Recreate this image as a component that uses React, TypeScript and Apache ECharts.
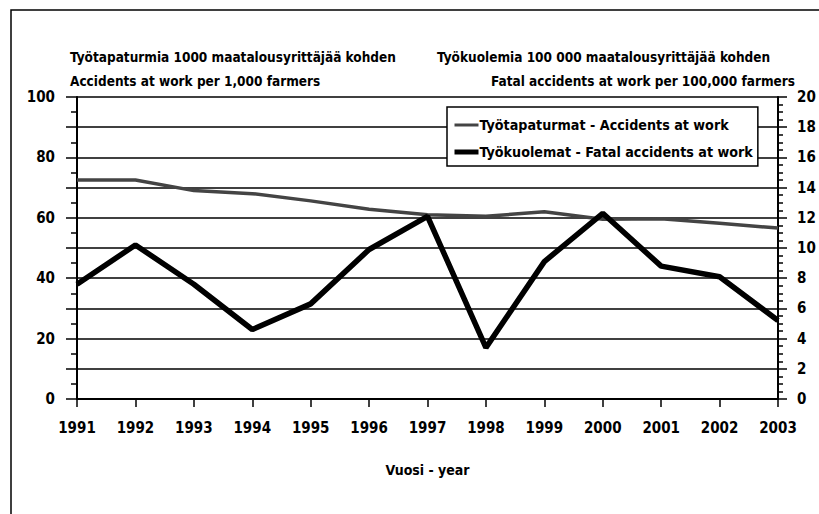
import React, { useEffect, useRef } from "react";
import * as echarts from "echarts";

const years = ["1991", "1992", "1993", "1994", "1995", "1996", "1997", "1998", "1999", "2000", "2001", "2002", "2003"];
const accidents = [72.5, 72.5, 69, 68, 65.6, 62.8, 61, 60.5, 62, 59.5, 59.7, 58.2, 56.6];
const fatal = [7.6, 10.2, 7.6, 4.6, 6.3, 9.9, 12.1, 3.4, 9.1, 12.3, 8.8, 8.1, 5.2];
const accidentsName = "Työtapaturmat - Accidents at work";
const fatalName = "Työkuolemat - Fatal accidents at work";
const leftTitle1 = "Työtapaturmia 1000 maatalousyrittäjää kohden";
const leftTitle2 = "Accidents at work per 1,000 farmers";
const rightTitle1 = "Työkuolemia 100 000 maatalousyrittäjää kohden";
const rightTitle2 = "Fatal accidents at work per 100,000 farmers";
const xName = "Vuosi - year";

const FONT = '"DejaVu Sans Condensed", "DejaVu Sans", sans-serif';

export default function App() {
  const ref = useRef<HTMLDivElement>(null);
  useEffect(() => {
    document.body.style.margin = "0";
    const chart = echarts.init(ref.current!, null, { renderer: "svg" });
    const titleStyle = { fontFamily: FONT, fontSize: 13.5, fontWeight: "bold" as const, color: "#000" };
    const tickFont = { fontFamily: FONT, fontSize: 15, fontWeight: "bold" as const, color: "#000" };
    chart.setOption({
      animation: false,
      backgroundColor: "#fff",
      textStyle: { fontFamily: FONT },
      title: [
        { text: leftTitle1, left: 70, top: 50, padding: 0, textStyle: titleStyle },
        { text: leftTitle2, left: 70, top: 74, padding: 0, textStyle: titleStyle },
        { text: rightTitle1, left: 437, top: 50, padding: 0, textStyle: titleStyle },
        { text: rightTitle2, right: 24, top: 74, padding: 0, textStyle: titleStyle },
      ],
      graphic: [
        {
          type: "rect",
          shape: { x: 11, y: 10, width: 1000, height: 800 },
          style: { fill: "none", stroke: "#000", lineWidth: 1.5 },
          silent: true,
        },
      ],
      legend: {
        orient: "vertical",
        left: 447,
        top: 107,
        padding: [11, 5, 7, 5],
        itemGap: 13,
        itemWidth: 24,
        itemHeight: 14,
        backgroundColor: "#fff",
        borderColor: "#000",
        borderWidth: 1.5,
        borderRadius: 0,
        itemStyle: { opacity: 0 },
        textStyle: { fontFamily: FONT, fontSize: 14.2, fontWeight: "bold", color: "#000", padding: [0, 0, 0, -4] },
        data: [
          { name: accidentsName, lineStyle: { color: "#444", width: 3 } },
          { name: fatalName, lineStyle: { color: "#000", width: 5 } },
        ],
      },
      grid: { left: 77, right: 41, top: 97, bottom: 115 },
      xAxis: {
        type: "category",
        data: years,
        boundaryGap: false,
        name: xName,
        nameLocation: "middle",
        nameGap: 64,
        nameTextStyle: { fontFamily: FONT, fontSize: 14, fontWeight: "bold", color: "#000" },
        axisLine: { lineStyle: { color: "#000", width: 2 } },
        axisTick: { show: true, length: 8, interval: 0, lineStyle: { color: "#000", width: 1.5 } },
        axisLabel: { margin: 21, interval: 0, ...tickFont },
        splitLine: { show: false },
      },
      yAxis: [
        {
          type: "value",
          min: 0,
          max: 100,
          interval: 10,
          axisLine: { show: true, lineStyle: { color: "#000", width: 2 } },
          axisTick: { show: true, length: 11, lineStyle: { color: "#000", width: 1.5 } },
          minorTick: { show: true, splitNumber: 2, length: 6, lineStyle: { color: "#000", width: 1.5 } },
          axisLabel: {
            margin: 22,
            ...tickFont,
            formatter: (v: number) => (v % 20 === 0 ? String(v) : ""),
          },
          splitLine: { show: true, lineStyle: { color: "#000", width: 1.5 } },
        },
        {
          type: "value",
          min: 0,
          max: 20,
          interval: 2,
          position: "right",
          axisLine: { show: true, lineStyle: { color: "#000", width: 2 } },
          axisTick: { show: true, length: 9, lineStyle: { color: "#000", width: 1.5 } },
          minorTick: { show: true, splitNumber: 4, length: 5, lineStyle: { color: "#000", width: 1.5 } },
          axisLabel: { margin: 19, ...tickFont },
          splitLine: { show: false },
        },
      ],
      series: [
        {
          name: accidentsName,
          type: "line",
          yAxisIndex: 0,
          data: accidents,
          symbol: "none",
          lineStyle: { color: "#444", width: 3.5 },
          itemStyle: { color: "#444" },
          z: 3,
        },
        {
          name: fatalName,
          type: "line",
          yAxisIndex: 1,
          data: fatal,
          symbol: "none",
          lineStyle: { color: "#000", width: 5.5 },
          itemStyle: { color: "#000" },
          z: 4,
        },
      ],
    });
    return () => chart.dispose();
  }, []);
  return <div ref={ref} style={{ width: 819, height: 514 }} />;
}
